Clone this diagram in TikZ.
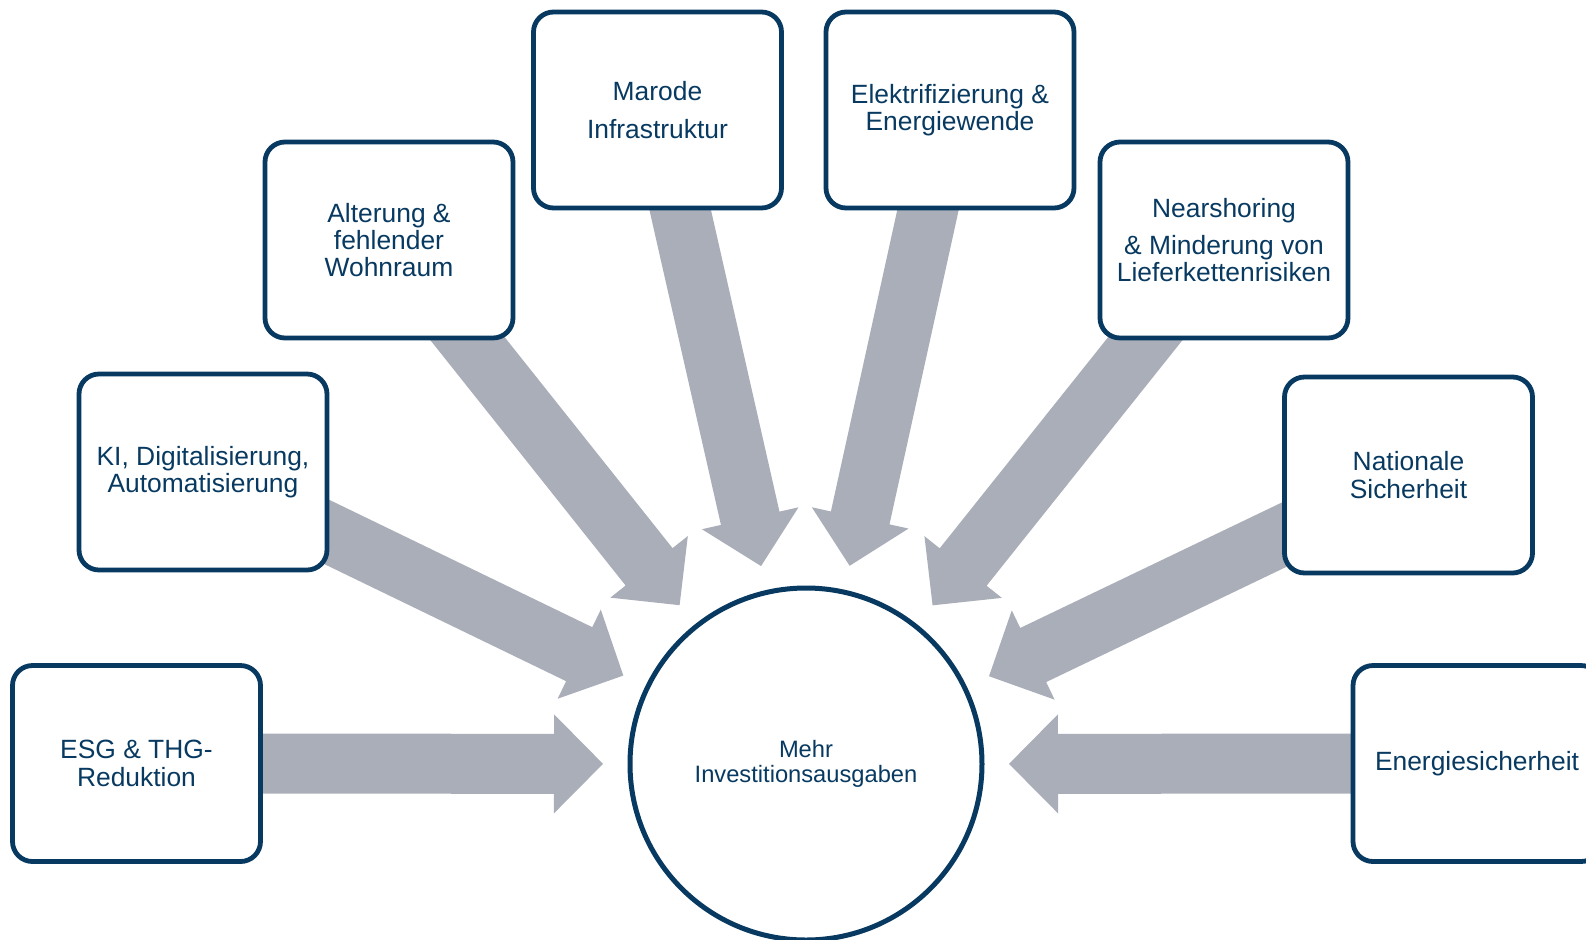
\documentclass[tikz,border=0pt]{standalone}
\usepackage{fontspec}
\setmainfont{Liberation Sans}
\usetikzlibrary{calc,backgrounds}
\definecolor{navy}{RGB}{8,58,97}
\definecolor{arrowgray}{RGB}{170,174,184}
\newcommand{\blockarr}[2]{%
  \coordinate (#2b) at ($(#2)!24.5pt!(#1.center)$);
  \fill[arrowgray] ($(#1.center)!15pt!90:(#2)$) -- ($(#2b)!15pt!90:(#2)$)
    -- ($(#2b)!24.75pt!90:(#2)$) -- (#2) -- ($(#2b)!24.75pt!-90:(#2)$)
    -- ($(#2b)!15pt!-90:(#2)$) -- ($(#1.center)!15pt!-90:(#2)$) -- cycle;
}
\begin{document}
\begin{tikzpicture}[x=0.5pt,y=-0.5pt,
  box/.style={draw=navy, line width=2.4pt, rounded corners=10pt, fill=white,
    minimum width=124pt, minimum height=98pt, align=center, text=navy,
    font=\fontsize{13.2pt}{13.65pt}\selectfont, inner sep=0pt},
  hub/.style={circle, draw=navy, line width=2.5pt, fill=white, minimum size=176pt,
    align=center, text=navy, font=\fontsize{11.85pt}{12.5pt}\selectfont, inner sep=0pt}]
\useasboundingbox (0,0) rectangle (1586,939);
\node[box] (b1) at (136.5,763.5) {ESG \& THG-\\Reduktion};
\node[box] (b2) at (203,472) {KI, Digitalisierung,\\Automatisierung};
\node[box] (b3) at (389,240) {Alterung \&\\fehlender\\Wohnraum};
\node[box] (b4) at (657.5,110) {Marode\\[5pt]Infrastruktur};
\node[box] (b5) at (950,110) {Elektrifizierung \&\\Energiewende};
\node[box] (b6) at (1224,240) {Nearshoring\\[5pt]\& Minderung von\\Lieferkettenrisiken};
\node[box] (b7) at (1408.5,475) {Nationale\\Sicherheit};
\node[box] (b8) at (1477,763.5) {Energiesicherheit};
\node[hub] (C) at (806,764) {Mehr\\Investitionsausgaben};
\foreach \i in {1,...,8} {
  \coordinate (t\i) at ($(C.center)!101.5pt!(b\i.center)$);
}
\begin{scope}[on background layer]
  \fill[white] (0,0) rectangle (1586,939);
  \blockarr{b1}{t1}
  \blockarr{b2}{t2}
  \blockarr{b3}{t3}
  \blockarr{b4}{t4}
  \blockarr{b5}{t5}
  \blockarr{b6}{t6}
  \blockarr{b7}{t7}
  \blockarr{b8}{t8}
\end{scope}
\end{tikzpicture}
\end{document}
